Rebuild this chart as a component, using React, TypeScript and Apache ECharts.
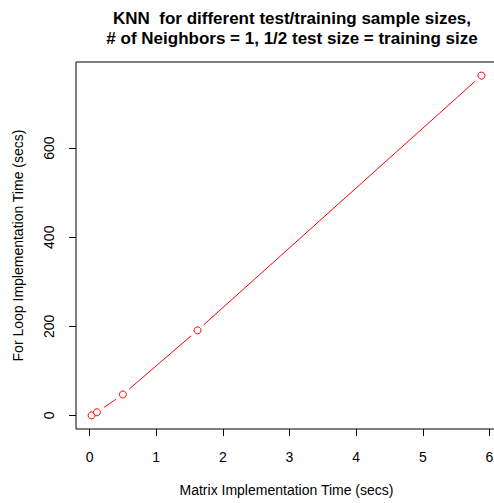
import React, { useEffect, useRef } from "react";
import * as echarts from "echarts";

const matrixTime = [0.03, 0.11, 0.5, 1.62, 5.88];
const loopTime = [0, 7, 47, 191, 763];
const xTicks = [0, 1, 2, 3, 4, 5, 6];
const yTicks = [0, 200, 400, 600];

const FONT = "Liberation Sans, Arial, Helvetica, sans-serif";
const GAP = 8.5;

export default function App() {
  const ref = useRef<HTMLDivElement>(null);
  useEffect(() => {
    if (!ref.current) return;
    const chart = echarts.init(ref.current, null, { renderer: "svg" });
    const pts = matrixTime.map((x, i) => [x, loopTime[i]]);
    const segs = pts.slice(0, -1).map((p, i) => [p[0], p[1], pts[i + 1][0], pts[i + 1][1]]);
    const xr = Math.max(...matrixTime) - Math.min(...matrixTime);
    const yr = Math.max(...loopTime) - Math.min(...loopTime);
    chart.setOption({
      animation: false,
      backgroundColor: "#fff",
      title: {
        text: "KNN  for different test/training sample sizes,\n# of Neighbors = 1, 1/2 test size = training size",
        left: 287,
        top: 3,
        textAlign: "center",
        textStyle: {
          fontFamily: FONT,
          fontWeight: "bold",
          fontSize: 17,
          lineHeight: 20,
          color: "#000",
        },
      },
      grid: {
        left: 76,
        top: 62,
        width: 421,
        height: 367,
        show: true,
        borderColor: "#000",
        borderWidth: 1,
        backgroundColor: "transparent",
      },
      xAxis: {
        type: "value",
        min: Math.min(...matrixTime) - 0.04 * xr,
        max: Math.max(...matrixTime) + 0.04 * xr,
        splitLine: { show: false },
        axisLine: { show: false, onZero: false },
        axisTick: { show: true, inside: false, length: 7, customValues: xTicks, lineStyle: { color: "#000" } },
        axisLabel: {
          customValues: xTicks,
          margin: 21,
          fontFamily: FONT,
          fontSize: 14,
          color: "#000",
        },
        name: "Matrix Implementation Time (secs)",
        nameLocation: "middle",
        nameGap: 54,
        nameTextStyle: { fontFamily: FONT, fontSize: 14, color: "#000" },
      },
      yAxis: {
        type: "value",
        min: Math.min(...loopTime) - 0.04 * yr,
        max: Math.max(...loopTime) + 0.04 * yr,
        splitLine: { show: false },
        axisLine: { show: false, onZero: false },
        axisTick: { show: true, inside: false, length: 7, customValues: yTicks, lineStyle: { color: "#000" } },
        axisLabel: {
          customValues: yTicks,
          rotate: 90,
          margin: 20,
          fontFamily: FONT,
          fontSize: 14,
          color: "#000",
        },
        name: "For Loop Implementation Time (secs)",
        nameLocation: "middle",
        nameGap: 51,
        nameTextStyle: { fontFamily: FONT, fontSize: 14, color: "#000" },
      },
      series: [
        {
          type: "custom",
          data: segs,
          encode: { x: [0, 2], y: [1, 3] },
          renderItem: (params: any, api: any) => {
            const a = api.coord([api.value(0), api.value(1)]);
            const b = api.coord([api.value(2), api.value(3)]);
            const dx = b[0] - a[0];
            const dy = b[1] - a[1];
            const d = Math.sqrt(dx * dx + dy * dy);
            if (d <= 2 * GAP) return { type: "group", children: [] };
            const ux = dx / d;
            const uy = dy / d;
            return {
              type: "line",
              shape: {
                x1: a[0] + ux * GAP,
                y1: a[1] + uy * GAP,
                x2: b[0] - ux * GAP,
                y2: b[1] - uy * GAP,
              },
              style: { stroke: "#ff0000", lineWidth: 1 },
            };
          },
          z: 2,
        },
        {
          type: "scatter",
          data: pts,
          symbol: "circle",
          symbolSize: 7,
          itemStyle: { color: "#fff", borderColor: "#ff0000", borderWidth: 1, opacity: 1 },
          emphasis: { disabled: true },
          z: 4,
        },
      ],
    });
    return () => chart.dispose();
  }, []);
  return (
    <div
      ref={ref}
      style={{ position: "fixed", left: 0, top: 0, width: 502, height: 503, background: "#fff" }}
    />
  );
}
